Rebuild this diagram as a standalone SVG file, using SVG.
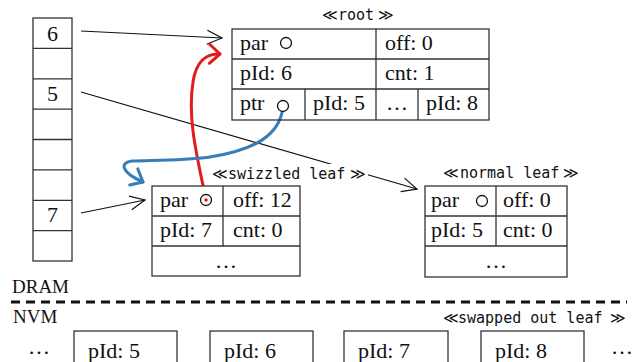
<svg xmlns="http://www.w3.org/2000/svg" width="635" height="362" viewBox="0 0 635 362">
<style>
  .cell { fill: #fff; stroke: #333; stroke-width: 1.3; }
  .ln { stroke: #333; stroke-width: 1.3; fill: none; }
  .t { font-family: "Liberation Serif", "Times New Roman", serif; font-size: 22px; fill: #111; }
  .lbl { font-family: "Liberation Serif", "Times New Roman", serif; font-size: 19px; fill: #111; }
  .m { font-family: "DejaVu Sans Mono", "Liberation Mono", monospace; font-size: 15px; fill: #111; }
  .sym { font-family: "DejaVu Sans", sans-serif; font-size: 15px; }
  .circ { fill: #fff; stroke: #111; stroke-width: 1.3; }
  .conn { stroke: #111; stroke-width: 1.2; fill: none; }
</style>
<defs>
  <marker id="ahb" markerUnits="userSpaceOnUse" markerWidth="20" markerHeight="20" refX="0" refY="0" viewBox="-17 -10 20 20" orient="auto">
    <path d="M -15 -7 L 0 0 L -15 7" fill="none" stroke="#111" stroke-width="1.2"/>
  </marker>
  <marker id="ahr" markerUnits="userSpaceOnUse" markerWidth="24" markerHeight="24" refX="0" refY="0" viewBox="-16 -12 20 24" orient="auto">
    <path d="M -11 -9 L 0 0 L -10 10" fill="none" stroke="#e41a1c" stroke-width="3" stroke-linecap="round" stroke-linejoin="round"/>
  </marker>
  <marker id="ahbl" markerUnits="userSpaceOnUse" markerWidth="24" markerHeight="24" refX="0" refY="0" viewBox="-16 -12 20 24" orient="auto">
    <path d="M -10 -10 L 0 0 L -11 8" fill="none" stroke="#377eb8" stroke-width="3" stroke-linecap="round" stroke-linejoin="round"/>
  </marker>
</defs>
<rect width="635" height="362" fill="#fff"/>

<g id="dram">
  <rect class="cell" x="33" y="18" width="39" height="243"/>
  <path class="ln" d="M33 48.4H72 M33 78.8H72 M33 109.1H72 M33 139.5H72 M33 169.9H72 M33 200.3H72 M33 230.6H72"/>
  <text class="t" x="52.5" y="41" text-anchor="middle">6</text>
  <text class="t" x="52.5" y="101" text-anchor="middle">5</text>
  <text class="t" x="52.5" y="222" text-anchor="middle">7</text>
</g>

<g id="connectors">
  <line class="conn" x1="81" y1="31" x2="222" y2="38" marker-end="url(#ahb)"/>
  <line class="conn" x1="81" y1="92" x2="417" y2="189" marker-end="url(#ahb)"/>
  <line class="conn" x1="81" y1="213" x2="145" y2="200" marker-end="url(#ahb)"/>
  <path d="M 206 200 C 198 160, 187 120, 193 82 C 196 62, 206 53, 220 54" fill="none" stroke="#e41a1c" stroke-width="3" stroke-linecap="round" marker-end="url(#ahr)"/>
  <path d="M 283 107 C 280 135, 255 150, 210 157 C 180 161, 150 160, 132 161 C 120 162, 120 172, 143 182" fill="none" stroke="#377eb8" stroke-width="3" stroke-linecap="round" marker-end="url(#ahbl)"/>
</g>

<g id="root">
  <text class="m" y="20"><tspan class="sym" x="322">≪</tspan><tspan x="338">root</tspan><tspan class="sym" x="378">≫</tspan></text>
  <rect class="cell" x="232" y="29" width="257" height="91" fill="none" style="fill:none"/>
  <path class="ln" d="M232 59H489 M232 89H489 M376 29V89 M305 89V120 M376 89V120 M418 89V120"/>
  <text class="t" x="240" y="50">par</text>
  <circle class="circ" cx="286" cy="43" r="5.5"/>
  <text class="t" x="385" y="50">off: 0</text>
  <text class="t" x="240" y="80">pId: 6</text>
  <text class="t" x="385" y="80">cnt: 1</text>
  <text class="t" x="240" y="110">ptr</text>
  <circle class="circ" cx="283" cy="106" r="5.5"/>
  <text class="t" x="313" y="110">pId: 5</text>
  <text class="t" x="397" y="110" text-anchor="middle">…</text>
  <text class="t" x="426" y="110">pId: 8</text>
</g>

<g id="swizzled-leaf">
  <rect x="210" y="164" width="158" height="20" fill="#fff"/>
  <text class="m" y="179"><tspan class="sym" x="212">≪</tspan><tspan x="228">swizzled leaf</tspan><tspan class="sym" x="350">≫</tspan></text>
  <rect class="cell" x="152" y="186" width="148" height="90"/>
  <path class="ln" d="M152 216H300 M152 246H300 M223 186V246"/>
  <text class="t" x="160" y="207">par</text>
  <circle class="circ" cx="206" cy="200" r="5.5"/>
  <text class="t" x="233" y="207">off: 12</text>
  <text class="t" x="160" y="237">pId: 7</text>
  <text class="t" x="233" y="237">cnt: 0</text>
  <text class="t" x="226" y="268" text-anchor="middle">…</text>
</g>
<g id="red-dot">
  <circle cx="206" cy="200" r="1.8" fill="#e41a1c"/>
</g>

<g id="normal-leaf">
  <text class="m" y="178"><tspan class="sym" x="443">≪</tspan><tspan x="460">normal leaf</tspan><tspan class="sym" x="563">≫</tspan></text>
  <rect class="cell" x="425" y="186" width="142" height="91"/>
  <path class="ln" d="M425 216H567 M425 246H567 M496 186V246"/>
  <text class="t" x="431" y="207">par</text>
  <circle class="circ" cx="482" cy="201" r="5.5"/>
  <text class="t" x="503" y="207">off: 0</text>
  <text class="t" x="431" y="237">pId: 5</text>
  <text class="t" x="503" y="237">cnt: 0</text>
  <text class="t" x="496" y="268" text-anchor="middle">…</text>
</g>

<g id="divider">
  <text class="lbl" x="12" y="293">DRAM</text>
  <line x1="11" y1="302" x2="627" y2="302" stroke="#111" stroke-width="3" stroke-dasharray="9 6"/>
  <text class="lbl" x="13" y="323">NVM</text>
</g>

<g id="nvm">
  <text class="m" y="323"><tspan class="sym" x="443">≪</tspan><tspan x="458">swapped out leaf</tspan><tspan class="sym" x="610">≫</tspan></text>
  <text class="t" x="39" y="354" text-anchor="middle">…</text>
  <g id="nvm-5"><rect class="cell" x="74" y="331" width="103" height="36"/><text class="t" x="88" y="358">pId: 5</text></g>
  <g id="nvm-6"><rect class="cell" x="210" y="331" width="103" height="36"/><text class="t" x="224" y="358">pId: 6</text></g>
  <g id="nvm-7"><rect class="cell" x="344" y="331" width="104" height="36"/><text class="t" x="358" y="358">pId: 7</text></g>
  <g id="nvm-8"><rect class="cell" x="481" y="331" width="103" height="36"/><text class="t" x="495" y="358">pId: 8</text></g>
  <text class="t" x="622" y="354" text-anchor="middle">…</text>
</g>
</svg>
